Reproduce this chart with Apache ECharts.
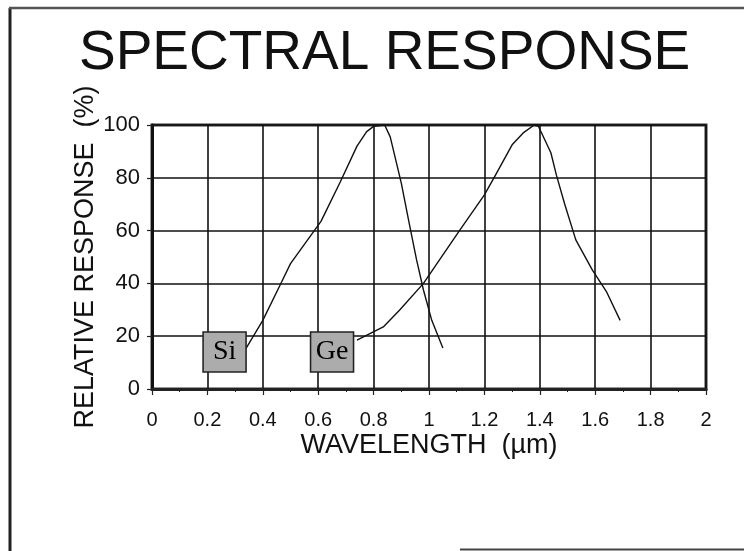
<!DOCTYPE html>
<html>
<head>
<meta charset="utf-8">
<script src="https://cdn.jsdelivr.net/npm/echarts@6/dist/echarts.min.js"></script>
<style>
html,body{margin:0;padding:0;background:#fff;}
#chart{width:744px;height:551px;}
</style>
</head>
<body>
<div id="chart"></div>
<script>
// Silicon response curve (wavelength µm, relative response %)
var siWavelength = [0.34, 0.40, 0.47, 0.50, 0.61, 0.68, 0.74, 0.775, 0.80, 0.84, 0.86, 0.90, 0.93, 0.955, 0.98, 1.01, 1.05];
var siResponse   = [15.5, 26, 41, 47.5, 63.5, 78.5, 92, 97.5, 99.5, 100, 95.5, 78, 62, 49, 37.5, 26, 15.5];
// Germanium response curve
var geWavelength = [0.74, 0.835, 0.895, 0.98, 1.11, 1.20, 1.24, 1.30, 1.34, 1.38, 1.395, 1.44, 1.46, 1.49, 1.53, 1.59, 1.64, 1.69];
var geResponse   = [18.5, 23.5, 30, 40, 60, 73.5, 81, 92.5, 97, 100, 99.5, 89.5, 81, 70, 56.5, 45, 37, 26];
// Curve label boxes
var materialNames = ['Si', 'Ge'];
var labelWavelength = [0.262, 0.65];
var labelResponse = [14, 14];

function pairs(xs, ys) { return xs.map(function (x, i) { return [x, ys[i]]; }); }

var FONT = "'Liberation Sans', Arial, sans-serif";
var chart = echarts.init(document.getElementById('chart'), null, {renderer: 'canvas'});
chart.setOption({
  backgroundColor: '#fff',
  animation: false,
  title: {
    text: 'SPECTRAL RESPONSE',
    left: 74, top: 21,
    textStyle: {fontFamily: FONT, fontSize: 55, fontWeight: 'normal', color: '#111'}
  },
  grid: {
    left: 152, right: 38, top: 125, bottom: 162,
    show: true, borderColor: '#333', borderWidth: 3, backgroundColor: 'transparent'
  },
  xAxis: {
    type: 'value', min: 0, max: 2, interval: 0.2,
    name: 'WAVELENGTH  (µm)', nameLocation: 'middle', nameGap: 43, nameMoveOverlap: false,
    nameTextStyle: {fontFamily: FONT, fontSize: 27, color: '#111'},
    axisLine: {show: true, lineStyle: {color: '#222', width: 3}},
    axisTick: {show: true, length: 6, lineStyle: {color: '#222', width: 1.2}},
    minorTick: {show: true, splitNumber: 2, length: 3, lineStyle: {color: '#222', width: 1}},
    axisLabel: {fontFamily: FONT, fontSize: 20, color: '#111', margin: 21},
    splitLine: {show: true, lineStyle: {color: '#111', width: 1.6}}
  },
  yAxis: {
    type: 'value', min: 0, max: 100, interval: 20,
    name: 'RELATIVE RESPONSE  (%)', nameLocation: 'middle', nameRotate: 90, nameGap: 53, nameMoveOverlap: false,
    nameTextStyle: {fontFamily: FONT, fontSize: 27, color: '#111'},
    axisLine: {show: true, lineStyle: {color: '#111', width: 3}},
    axisTick: {show: true, length: 5, lineStyle: {color: '#222', width: 1.2}},
    axisLabel: {fontFamily: FONT, fontSize: 22, color: '#111', margin: 12},
    splitLine: {show: true, lineStyle: {color: '#111', width: 1.6}}
  },
  series: [
    {
      name: 'Si', type: 'line', data: pairs(siWavelength, siResponse),
      showSymbol: false, symbol: 'none', smooth: false,
      lineStyle: {color: '#111', width: 1.4}, z: 3
    },
    {
      name: 'Ge', type: 'line', data: pairs(geWavelength, geResponse),
      showSymbol: false, symbol: 'none', smooth: false,
      lineStyle: {color: '#111', width: 1.4}, z: 3
    },
    {
      name: 'labels', type: 'scatter', z: 5,
      data: labelWavelength.map(function (x, i) { return {value: [x, labelResponse[i]], name: materialNames[i]}; }),
      symbol: 'rect', symbolSize: [43, 40],
      itemStyle: {color: '#acacac', borderColor: '#222', borderWidth: 1.5, opacity: 1},
      label: {
        show: true, position: 'inside', formatter: '{b}',
        fontFamily: "'Liberation Serif', 'Times New Roman', serif", fontSize: 28, color: '#000'
      }
    }
  ],
  graphic: [
    {type: 'line', shape: {x1: 10, y1: 8, x2: 10, y2: 551}, style: {stroke: '#222', lineWidth: 3}},
    {type: 'line', shape: {x1: 9, y1: 8, x2: 744, y2: 8}, style: {stroke: '#555', lineWidth: 2.5}},
    {type: 'line', shape: {x1: 460, y1: 549.5, x2: 744, y2: 549.5}, style: {stroke: '#444', lineWidth: 2}}
  ]
});
</script>
</body>
</html>
